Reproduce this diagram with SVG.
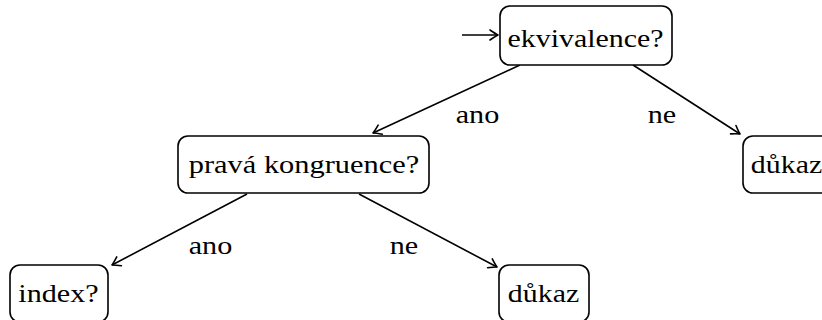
<svg xmlns="http://www.w3.org/2000/svg" width="822" height="320" viewBox="0 0 822 320">
<style>
.box{fill:#fff;stroke:#000;stroke-width:1.6}
.t{font-family:"Liberation Serif",serif;font-size:26px;fill:#000;text-anchor:middle}
.e{stroke:#000;stroke-width:1.6;fill:none;marker-end:url(#arr)}
</style>
<defs>
<marker id="arr" markerUnits="userSpaceOnUse" viewBox="-10 -6 12 12" refX="0" refY="0" markerWidth="12" markerHeight="12" orient="auto" overflow="visible">
<path d="M -8 -5 Q -2.5 -1.2 0 0 Q -2.5 1.2 -8 5" fill="none" stroke="#000" stroke-width="1.6" stroke-linecap="round" stroke-linejoin="round"/>
</marker>
</defs>
<rect width="822" height="320" fill="#fff"/>
<g id="edges">
<line class="e" x1="462" y1="35" x2="498" y2="35"/>
<line class="e" x1="520" y1="65" x2="373" y2="133"/>
<line class="e" x1="633" y1="65" x2="740" y2="134"/>
<line class="e" x1="247" y1="194" x2="112" y2="265"/>
<line class="e" x1="359" y1="194" x2="497" y2="267"/>
<text class="t" transform="translate(477.5 123) scale(1.16 1)">ano</text>
<text class="t" transform="translate(662 123) scale(1.16 1)">ne</text>
<text class="t" transform="translate(210.5 254) scale(1.16 1)">ano</text>
<text class="t" transform="translate(404 254) scale(1.16 1)">ne</text>
</g>
<g id="n-ekvivalence">
<rect class="box" x="500" y="6" width="172" height="59" rx="10"/>
<text class="t" transform="translate(585.5 47) scale(1.15 1)">ekvivalence?</text>
</g>
<g id="n-prava">
<rect class="box" x="178" y="136" width="251" height="57" rx="10"/>
<text class="t" transform="translate(304 173) scale(1.17 1)">pravá kongruence?</text>
</g>
<g id="n-dukaz1">
<rect class="box" x="743" y="136" width="90" height="57" rx="10"/>
<text class="t" transform="translate(786.5 173) scale(1.15 1)">důkaz</text>
</g>
<g id="n-index">
<rect class="box" x="10" y="265" width="98" height="57" rx="10"/>
<text class="t" transform="translate(58.5 302) scale(1.16 1)">index?</text>
</g>
<g id="n-dukaz2">
<rect class="box" x="499" y="265" width="90" height="57" rx="10"/>
<text class="t" transform="translate(543.5 302) scale(1.15 1)">důkaz</text>
</g>
</svg>
